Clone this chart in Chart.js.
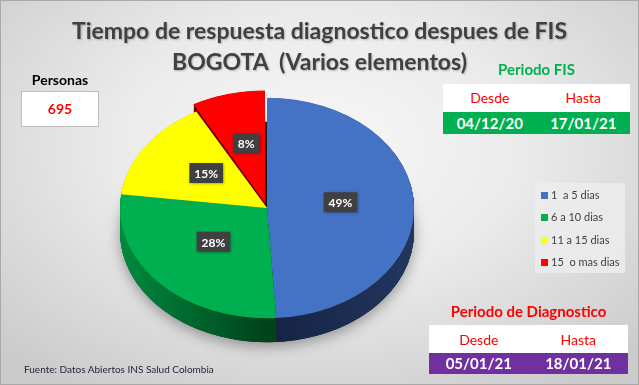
<!DOCTYPE html>
<html>
<head>
<meta charset="utf-8">
<script src="https://cdn.jsdelivr.net/npm/chart.js@4.4.1/dist/chart.umd.min.js"></script>
<style>
  html, body { margin: 0; padding: 0; }
  #wrap {
    position: relative; width: 639px; height: 385px; overflow: hidden;
    background: radial-gradient(ellipse 70% 75% at 50% 38%, #f7f7f7 0%, #ebebeb 45%, #cbcbcb 100%);
    box-shadow: inset 0 0 0 1px #a9a9a9;
    font-family: Lato, "Open Sans", sans-serif;
  }
  #grafico { position: absolute; left: 0; top: 0; }
  .abs { position: absolute; }
  #titulo {
    left: 0; width: 639px; top: 15px; text-align: center; color: #404040;
    font-weight: bold; font-size: 23px; line-height: 31px; white-space: pre;
    text-shadow: 1px 1px 2px rgba(0,0,0,0.25);
  }
  #personasLbl { left: 18px; width: 84px; top: 71px; text-align: center; font-weight: bold; font-size: 14px; color: #000; }
  #personasBox {
    left: 21px; top: 91px; width: 76px; height: 34px; background: #fff; border: 1px solid #bdbdbd;
    color: #ff0000; font-weight: bold; font-size: 14px; line-height: 34px; text-align: center;
  }
  .periodo { font-weight: bold; font-size: 15px; text-align: center; }
  .tabla { background: #fff; }
  .tabla .fila { position: absolute; left: 0; width: 100%; display: flex; }
  .tabla .fila div { flex: 1; text-align: center; }
  .enc { color: #ff0000; font-size: 14px; }
  .fech { color: #fff; font-weight: bold; font-size: 15px; }
  #leyenda {
    left: 535px; top: 183px; width: 90px; height: 90px; background: rgba(236,236,236,0.85);
    font-size: 11px; color: #404040;
  }
  #leyenda .item { position: absolute; left: 6px; height: 14px; line-height: 14px; white-space: pre; }
  #leyenda .cuadro { display: inline-block; width: 7px; height: 7px; margin-right: 3px; vertical-align: 0px; }
  #fuente { left: 24px; top: 363px; font-size: 10px; color: #1f1f3a; }
</style>
</head>
<body>
<div id="wrap">
  <canvas id="grafico" width="639" height="385"></canvas>
  <div id="titulo" class="abs"></div>
  <div id="personasLbl" class="abs">Personas</div>
  <div id="personasBox" class="abs"></div>

  <div class="abs periodo" style="left:443px;width:187px;top:60px;color:#00b050;">Periodo FIS</div>
  <div class="abs tabla" style="left:443px;top:84px;width:187px;height:50px;">
    <div class="fila enc" style="top:5px;"><div>Desde</div><div>Hasta</div></div>
    <div class="fila fech" id="filaFIS" style="top:28px;height:22px;line-height:22px;background:#00b050;"></div>
  </div>

  <div class="abs periodo" style="left:429px;width:199px;top:302px;color:#ff0000;">Periodo de Diagnostico</div>
  <div class="abs tabla" style="left:429px;top:325px;width:199px;height:49px;">
    <div class="fila enc" style="top:6px;"><div>Desde</div><div>Hasta</div></div>
    <div class="fila fech" id="filaDiag" style="top:28px;height:21px;line-height:21px;background:#7030a0;"></div>
  </div>

  <div id="leyenda" class="abs"></div>
  <div id="fuente" class="abs">Fuente: Datos Abiertos INS Salud Colombia</div>
</div>

<script>
const titulo = ['Tiempo de respuesta diagnostico despues de FIS', 'BOGOTA  (Varios elementos)'];
const categorias = ['1  a 5 dias', '6 a 10 dias', '11 a 15 dias', '15  o mas dias'];
const porcentajes = [49, 28, 15, 8];
const colores = ['#4472c4', '#00b050', '#ffff00', '#ff0000'];
const separacion = [0, 0, 0, 26];
const personas = 695;
const periodoFIS = ['04/12/20', '17/01/21'];
const periodoDiag = ['05/01/21', '18/01/21'];

// texts
document.getElementById('titulo').textContent = titulo.join('\n');
document.getElementById('personasBox').textContent = personas;
document.getElementById('filaFIS').innerHTML = periodoFIS.map(f => `<div>${f}</div>`).join('');
document.getElementById('filaDiag').innerHTML = periodoDiag.map(f => `<div>${f}</div>`).join('');

const leyenda = document.getElementById('leyenda');
categorias.forEach((c, i) => {
  const it = document.createElement('div');
  it.className = 'item';
  it.style.top = (5 + i * 22.3) + 'px';
  it.innerHTML = `<span class="cuadro" style="background:${colores[i]}"></span>${c}`;
  leyenda.appendChild(it);
});

// 3D look: squash the pie and stack darker layers under it
const K = 0.75;
const PROF = 24;

const despl = (a) => {
  const off = (a.options.offset || 0) / 4;
  const half = (a.startAngle + a.endAngle) / 2;
  const fix = 1 - Math.sin(Math.min(Math.PI, a.circumference || 0));
  const t = off * (1 + fix);
  return [Math.cos(half) * t, Math.sin(half) * t];
};

const ladoColor = (ctx, cx, r, i) => {
  const g = ctx.createLinearGradient(cx - r, 0, cx + r, 0);
  if (i === 0) { g.addColorStop(0, '#142241'); g.addColorStop(0.5, '#152342'); g.addColorStop(1, '#22365f'); }
  else if (i === 1) { g.addColorStop(0, '#008a3e'); g.addColorStop(0.5, '#00421b'); g.addColorStop(1, '#00421b'); }
  else if (i === 2) { g.addColorStop(0, '#9a9a00'); g.addColorStop(1, '#707000'); }
  else { g.addColorStop(0, '#6e0000'); g.addColorStop(1, '#7a0000'); }
  return g;
};

const pie3d = {
  id: 'pie3d',
  beforeDatasetsDraw(chart) {
    const ctx = chart.ctx;
    const arcs = chart.getDatasetMeta(0).data;
    const cx = arcs[0].x, cy = arcs[0].y, r = arcs[0].outerRadius;
    ctx.save();
    ctx.translate(cx, cy); ctx.scale(1, K); ctx.translate(-cx, -cy);
    const dz = PROF / K;
    // soft shadow below the base
    ctx.save();
    ctx.shadowColor = 'rgba(0,0,0,0.35)';
    ctx.shadowBlur = 14;
    ctx.shadowOffsetY = 4;
    ctx.beginPath();
    ctx.arc(cx, cy + dz, r, 0, Math.PI * 2);
    ctx.fillStyle = '#1a1a1a';
    ctx.fill();
    ctx.restore();
    for (let d = dz; d > 0; d -= 0.5) {
      arcs.forEach((a, i) => {
        const [ox, oy] = despl(a);
        ctx.beginPath();
        ctx.moveTo(a.x + ox, a.y + oy + d);
        ctx.arc(a.x + ox, a.y + oy + d, a.outerRadius, a.startAngle, a.endAngle);
        ctx.closePath();
        ctx.fillStyle = ladoColor(ctx, cx, r, i);
        ctx.fill();
      });
    }
  },
  afterDatasetsDraw(chart) {
    const ctx = chart.ctx;
    ctx.restore();
    const arcs = chart.getDatasetMeta(0).data;
    ctx.font = 'bold 12px Lato, sans-serif';
    ctx.textAlign = 'center';
    ctx.textBaseline = 'middle';
    arcs.forEach((a, i) => {
      const [ox, oy] = despl(a);
      const half = (a.startAngle + a.endAngle) / 2;
      const rr = a.outerRadius * 0.5;
      const sx = a.x + ox + Math.cos(half) * rr;
      const sy = a.y + (oy + Math.sin(half) * rr) * K - 4;
      const txt = porcentajes[i] + '%';
      const w = ctx.measureText(txt).width + 10, h = 20;
      ctx.save();
      ctx.shadowColor = 'rgba(0,0,0,0.4)';
      ctx.shadowBlur = 3; ctx.shadowOffsetX = 1; ctx.shadowOffsetY = 1;
      ctx.fillStyle = '#404040';
      ctx.fillRect(sx - w / 2, sy - h / 2, w, h);
      ctx.restore();
      ctx.fillStyle = '#ffffff';
      ctx.fillText(txt, sx, sy + 1);
    });
  }
};

new Chart(document.getElementById('grafico'), {
  type: 'pie',
  data: {
    labels: categorias,
    datasets: [{
      data: porcentajes,
      backgroundColor: colores,
      borderWidth: 0,
      offset: separacion
    }]
  },
  options: {
    responsive: false,
    animation: false,
    radius: 147,
    layout: { padding: { left: 20, right: 125, top: 42, bottom: 11 } },
    plugins: { legend: { display: false }, tooltip: { enabled: false } }
  },
  plugins: [pie3d]
});
</script>
</body>
</html>
